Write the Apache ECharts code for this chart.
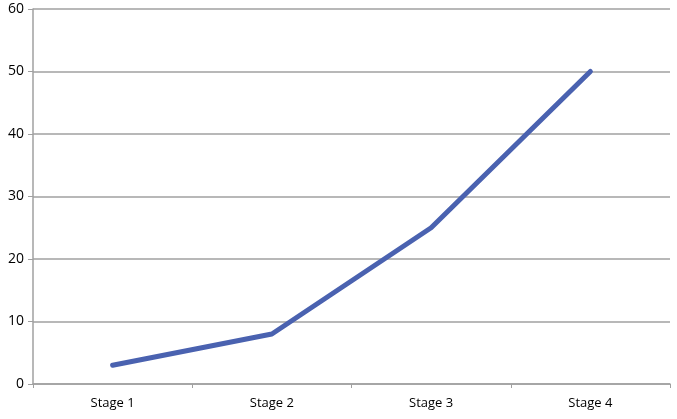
<!DOCTYPE html>
<html>
<head>
<meta charset="utf-8">
<script src="https://cdn.jsdelivr.net/npm/echarts@6/dist/echarts.min.js"></script>
<style>html,body{margin:0;padding:0;background:#fff}#c{width:677px;height:419px}</style>
</head>
<body>
<div id="c"></div>
<script>
var categories = ['Stage 1', 'Stage 2', 'Stage 3', 'Stage 4'];
var values = [3, 8, 25, 50];
var yMin = 0, yMax = 60, yInterval = 10;

var chart = echarts.init(document.getElementById('c'));
chart.setOption({
  animation: false,
  grid: { left: 33, right: 7, top: 9, bottom: 35, containLabel: false },
  xAxis: {
    type: 'category',
    data: categories,
    boundaryGap: true,
    axisLine: { lineStyle: { color: '#a0a0a0', width: 1.5 } },
    axisTick: { show: true, alignWithLabel: false, length: 4, lineStyle: { color: '#a0a0a0' } },
    axisLabel: { color: '#000', fontFamily: 'Open Sans', fontSize: 13, margin: 13 },
    splitLine: { show: false }
  },
  yAxis: {
    type: 'value',
    min: yMin, max: yMax, interval: yInterval,
    axisLine: { show: true, lineStyle: { color: '#a0a0a0', width: 1.5 } },
    axisTick: { show: true, length: 5, lineStyle: { color: '#a0a0a0' } },
    axisLabel: { color: '#000', fontFamily: 'Open Sans', fontSize: 14, margin: 9 },
    splitLine: { show: true, lineStyle: { color: '#a0a0a0', width: 1.5 } }
  },
  series: [{
    type: 'line',
    data: values,
    symbol: 'none',
    lineStyle: { color: '#4a62b0', width: 5, cap: 'round', join: 'round' }
  }]
});
</script>
</body>
</html>
